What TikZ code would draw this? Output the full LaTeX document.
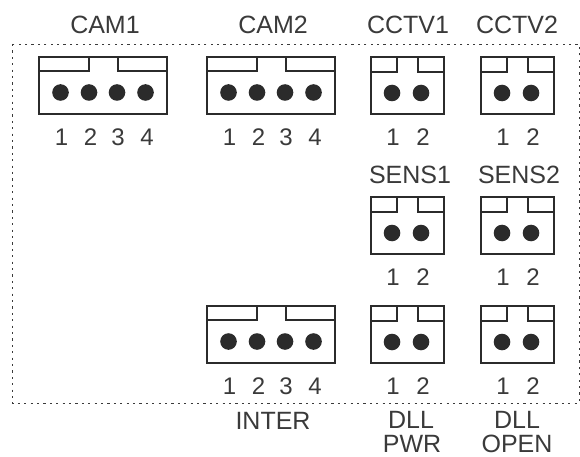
\documentclass[tikz,border=0pt]{standalone}
\usepackage{fontspec}
\setmainfont{Liberation Sans}
\definecolor{inkgray}{HTML}{2B2B2B}
\definecolor{textgray}{HTML}{3A3A3A}
\tikzset{
  housing/.style={draw=inkgray, line width=1.9pt, line join=miter},
  pinhole/.style={fill=inkgray},
  boardline/.style={draw=textgray, line width=0.9pt, dash pattern=on 2.2pt off 4.2pt},
  termlabel/.style={text=textgray, font=\fontsize{25}{25}\selectfont, inner sep=0pt, anchor=center},
  pinlabel/.style={text=textgray, font=\fontsize{24}{24}\selectfont, inner sep=0pt, anchor=center}
}
% #1 name, #2 left, #3 top
\newcommand{\twopin}[3]{
\begin{scope}[shift={(#2,-#3)}]
\draw[housing] (0,0) rectangle (73,-57);
\draw[housing] (0,-15) -- (26,-15) -- (26,0);
\draw[housing] (73,-15) -- (47,-15) -- (47,0);
\fill[pinhole] (21,-36) circle (8.3);
\fill[pinhole] (50,-36) circle (8.3);
\node[pinlabel] (#1-1) at (22,-80) {1};
\node[pinlabel] (#1-2) at (52,-80) {2};
\end{scope}
}
\newcommand{\fourpin}[3]{
\begin{scope}[shift={(#2,-#3)}]
\draw[housing] (0,0) rectangle (128,-57);
\draw[housing] (0,-14) -- (50,-14) -- (50,0);
\draw[housing] (128,-14) -- (79,-14) -- (79,0);
\fill[pinhole] (21.5,-35.5) circle (8.3);
\fill[pinhole] (50,-35.5) circle (8.3);
\fill[pinhole] (78,-35.5) circle (8.3);
\fill[pinhole] (106.5,-35.5) circle (8.3);
\node[pinlabel] (#1-1) at (22.5,-80) {1};
\node[pinlabel] (#1-2) at (51.5,-80) {2};
\node[pinlabel] (#1-3) at (79,-80) {3};
\node[pinlabel] (#1-4) at (108,-80) {4};
\end{scope}
}
\begin{document}
\begin{tikzpicture}[x=1pt,y=1pt]
\useasboundingbox (0,0) rectangle (580,-457);
\draw[boardline] (12,-44) rectangle (579,-403);

\fourpin{cam1}{39}{57}
\fourpin{cam2}{207}{57}
\fourpin{inter}{207}{306}
\twopin{cctv1}{371}{57}
\twopin{cctv2}{481}{57}
\twopin{sens1}{371}{197}
\twopin{sens2}{481}{197}
\twopin{dllpwr}{371}{306}
\twopin{dllopen}{481}{306}

\node[termlabel] (cam1) at (105,-25) {CAM1};
\node[termlabel] (cam2) at (273,-25) {CAM2};
\node[termlabel] (cctv1) at (408,-25) {CCTV1};
\node[termlabel] (cctv2) at (517,-25) {CCTV2};
\node[termlabel] (sens1) at (410,-175) {SENS1};
\node[termlabel] (sens2) at (519,-175) {SENS2};
\node[termlabel] (inter) at (273,-421) {INTER};
\node[termlabel] (dll1) at (411,-420) {DLL};
\node[termlabel] (pwr) at (412,-443.5) {PWR};
\node[termlabel] (dll2) at (517,-420) {DLL};
\node[termlabel] (open) at (517,-443.5) {OPEN};
\end{tikzpicture}
\end{document}
